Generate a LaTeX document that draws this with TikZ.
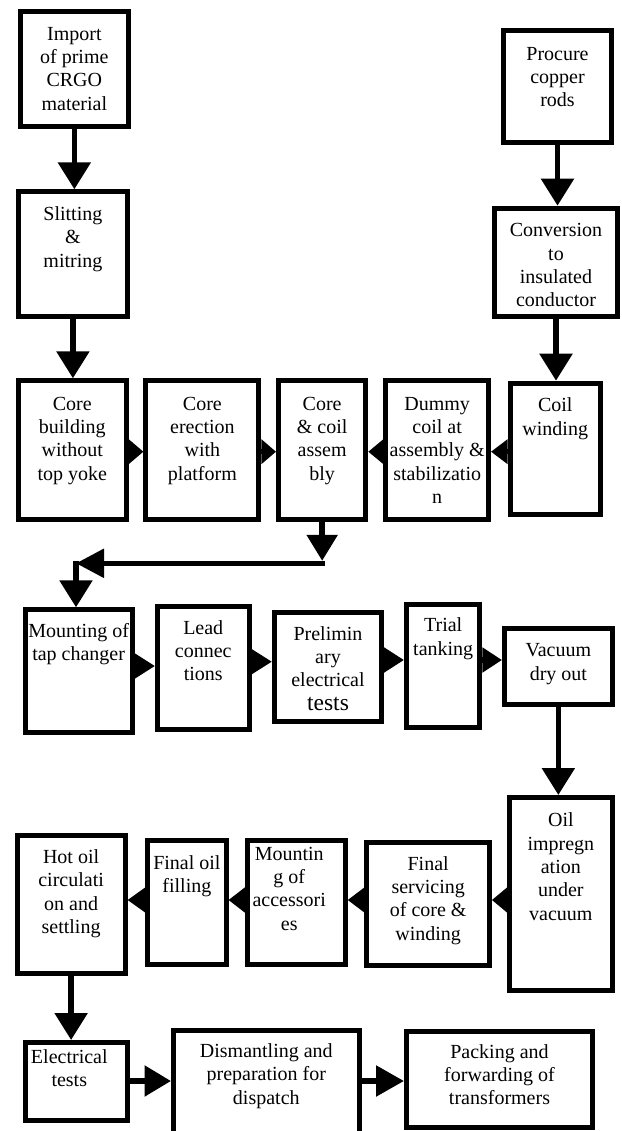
\documentclass[tikz,border=0pt]{standalone}
\usepackage{fontspec}
\setmainfont{Liberation Serif}
\usetikzlibrary{arrows.meta,calc}
\newcommand{\flowbox}[5]{%
  \pgfmathsetmacro{\fbcx}{(#2+#4)/2}%
  \pgfmathsetmacro{\fbcy}{(#3+#5)/2}%
  \pgfmathsetmacro{\fbw}{#4-#2-5}%
  \pgfmathsetmacro{\fbh}{#5-#3-5}%
  \node[box, minimum width=\fbw pt, minimum height=\fbh pt] (#1) at (\fbcx,\fbcy) {};}
\newcommand{\flowtext}[4]{%
  \node[txt, anchor=north] (#1-t) at ($(#1.north)+(#2,#3-16.31)$) {\strut #4};}
\begin{document}
\begin{tikzpicture}[x=1pt,y=-1pt,
  box/.style={draw=black,line width=5pt,inner sep=0pt,fill=white},
  txt/.style={font=\fontsize{20}{23.3}\selectfont,align=center,inner sep=0pt,text=black},
  conn/.style={line width=5.5pt,-{Triangle[length=27pt,width=32pt]}},
  gaparrow/.style={line width=5.5pt,-{Triangle[length=#1,width=24pt]}}]
\useasboundingbox (0,0) rectangle (621,1131);
\clip (0,0) rectangle (621,1131);
% boxes
\flowbox{import}{18}{9.3}{130.7}{129.3}
\flowbox{slit}{15.8}{189.3}{130}{319.3}
\flowbox{procure}{501}{28.3}{614}{145}
\flowbox{conv}{492}{205.7}{620}{319.3}
\flowbox{corebuild}{15.8}{378.3}{128.7}{521.7}
\flowbox{coreerect}{143.4}{378.3}{261.4}{521.7}
\flowbox{corecoil}{276}{378.3}{368.3}{521.7}
\flowbox{dummy}{383.4}{378.3}{491}{521.7}
\flowbox{coil}{507.7}{380.7}{602.8}{516.7}
\flowbox{mount}{22.6}{607.3}{134.7}{735}
\flowbox{lead}{155}{604}{251.5}{731.7}
\flowbox{prelim}{272}{610}{384}{724}
\flowbox{trial}{404}{601.7}{482.4}{730}
\flowbox{vacuum}{502}{626}{614.7}{706.7}
\flowbox{hotoil}{14.7}{833.3}{127.5}{976}
\flowbox{finaloil}{145.3}{838.3}{228.5}{966.7}
\flowbox{mountacc}{244.8}{838.3}{347.7}{966.7}
\flowbox{finalserv}{364.4}{840}{491.9}{968.3}
\flowbox{oilimp}{507}{795}{614.7}{992.7}
\flowbox{elec}{22.6}{1040}{130}{1123}
\flowbox{dism}{171}{1028.3}{361.6}{1145}
\flowbox{pack}{404}{1029}{595}{1130}
% texts
\flowtext{import}{0}{30.7}{Import\\of prime\\CRGO\\material}
\flowtext{slit}{0}{31}{Slitting\\\&\\mitring}
\flowtext{procure}{0}{31.7}{Procure\\copper\\rods}
\flowtext{conv}{0}{31}{Conversion\\to\\insulated\\conductor}
\flowtext{corebuild}{0}{31.7}{Core\\building\\without\\top yoke}
\flowtext{coreerect}{0}{31.7}{Core\\erection\\with\\platform}
\flowtext{corecoil}{0}{31.7}{Core\\\& coil\\assem\\bly}
\flowtext{dummy}{0}{31.7}{Dummy\\coil at\\assembly \&\\stabilizatio\\n}
\flowtext{coil}{0}{31}{Coil\\winding}
\flowtext{mount}{0}{30}{Mounting of\\tap changer}
\flowtext{lead}{0}{30}{Lead\\connec\\tions}
\flowtext{prelim}{0}{30}{Prelimin\\ary\\electrical\\{\fontsize{23.5}{23.3}\selectfont tests}}
\flowtext{trial}{0}{30}{Trial\\tanking}
\flowtext{vacuum}{0}{30.7}{Vacuum\\dry out}
\flowtext{hotoil}{0}{30}{Hot oil\\circulati\\on and\\settling}
\flowtext{finaloil}{0}{31}{Final oil\\filling}
\flowtext{mountacc}{-7}{21.7}{Mountin\\g of\\accessori\\es}
\flowtext{finalserv}{0}{30}{Final\\servicing\\of core \&\\winding}
\flowtext{oilimp}{0}{31.7}{Oil\\impregn\\ation\\under\\vacuum}
\flowtext{elec}{-7}{23.3}{Electrical\\tests}
\flowtext{dism}{0}{29}{Dismantling and\\preparation for\\dispatch}
\flowtext{pack}{0}{29}{Packing and\\forwarding of\\transformers}
% row coordinates
\coordinate (r2) at (0,451.7);
\coordinate (r3a) at (0,666);
\coordinate (r3b) at (0,661.7);
\coordinate (r3c) at (0,660);
\coordinate (r4) at (0,900);
\coordinate (r5) at (0,1081);
\coordinate (elA) at (322,563.3);
\coordinate (elB) at (76,563.3);
% connectors
\draw[conn] (import.south) -- (import.south |- slit.north);
\draw[conn] (slit.south) -- (slit.south |- corebuild.north);
\draw[conn] (procure.south) -- (procure.south |- conv.north);
\draw[conn] (conv.south) -- (conv.south |- coil.north);
\draw[gaparrow=14.7pt] (corebuild.east |- r2) -- (coreerect.west |- r2);
\draw[gaparrow=14.6pt] (coreerect.east |- r2) -- (corecoil.west |- r2);
\draw[gaparrow=15.1pt] (dummy.west |- r2) -- (corecoil.east |- r2);
\draw[gaparrow=16.7pt] (coil.west |- r2) -- (dummy.east |- r2);
\draw[line width=5.5pt,-{Triangle[length=26pt,width=30pt]}] (corecoil.south) -- ([yshift=2.5pt]corecoil.south |- elA);
\draw[line width=5.5pt,shorten <=-2.75pt,-{Triangle[length=28pt,width=28pt]}] (corecoil.south |- elA) -- (elB);
\draw[conn,shorten <=-2.75pt] (elB) -- (elB |- mount.north);
\draw[gaparrow=20.3pt] (mount.east |- r3a) -- (lead.west |- r3a);
\draw[gaparrow=20.5pt] (lead.east |- r3b) -- (prelim.west |- r3b);
\draw[gaparrow=20pt] (prelim.east |- r3c) -- (trial.west |- r3c);
\draw[gaparrow=19.6pt] (trial.east |- r3c) -- (vacuum.west |- r3c);
\draw[conn] (vacuum.south) -- (vacuum.south |- oilimp.north);
\draw[gaparrow=15.1pt] (oilimp.west |- r4) -- (finalserv.east |- r4);
\draw[gaparrow=16.7pt] (finalserv.west |- r4) -- (mountacc.east |- r4);
\draw[gaparrow=16.3pt] (mountacc.west |- r4) -- (finaloil.east |- r4);
\draw[gaparrow=17.8pt] (finaloil.west |- r4) -- (hotoil.east |- r4);
\draw[conn] (hotoil.south) -- (hotoil.south |- elec.north);
\draw[line width=5.5pt,-{Triangle[length=26.5pt,width=30pt]}] (elec.east |- r5) -- (dism.west |- r5);
\draw[line width=5.5pt,-{Triangle[length=28pt,width=30pt]}] (dism.east |- r5) -- (pack.west |- r5);
\end{tikzpicture}
\end{document}
